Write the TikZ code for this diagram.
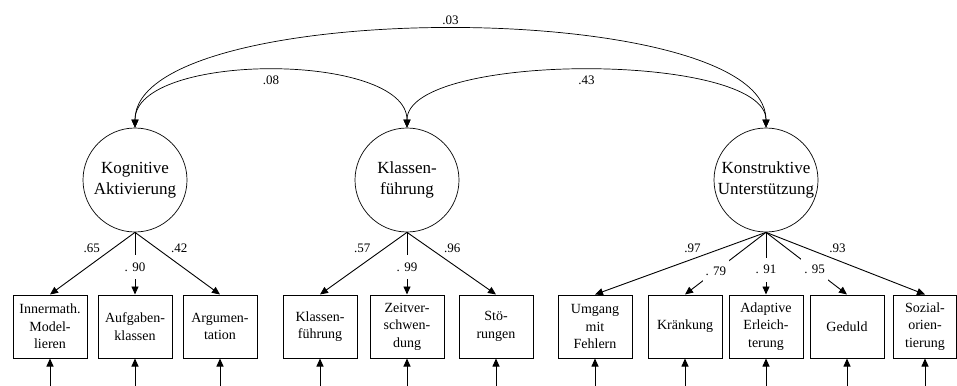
\documentclass[tikz,border=0pt]{standalone}
\usepackage{fontspec}
\setmainfont{Liberation Serif}
\usetikzlibrary{arrows.meta}
\begin{document}
\begin{tikzpicture}[x=1pt,y=-1pt,
  tip/.style={-{Triangle[length=8pt,width=7pt]}},
  bitip/.style={{Triangle[length=8pt,width=7pt]}-{Triangle[length=8pt,width=7pt]}},
  latent/.style={draw, circle, minimum size=104pt, inner sep=0pt, align=center,
    font=\fontsize{17}{21}\selectfont, line width=0.7pt},
  manifest/.style={draw, rectangle, minimum width=74pt, minimum height=63pt, inner sep=0pt,
    align=center, font=\fontsize{14}{17.5}\selectfont, line width=1pt},
  coef/.style={font=\fontsize{13}{15}\selectfont, inner sep=1pt},
  gapcoef/.style={font=\fontsize{13}{15}\selectfont, fill=white, inner sep=3pt, minimum height=24pt},
  load/.style={tip, line width=0.9pt},
  err/.style={tip, line width=0.9pt}
]
\useasboundingbox (0,0) rectangle (957,385);

% latent factors
\node[latent] (KA) at (135,180) {Kognitive\\Aktivierung};
\node[latent] (KF) at (407,180) {Klassen-\\führung};
\node[latent] (KU) at (766,180) {Konstruktive\\Unterstützung};

% manifest indicators
\node[manifest] (b1) at (50,326.5) {Innermath.\\Model-\\lieren};
\node[manifest] (b2) at (135,326.5) {Aufgaben-\\klassen};
\node[manifest] (b3) at (220,326.5) {Argumen-\\tation};
\node[manifest] (b4) at (320,326.5) {Klassen-\\führung};
\node[manifest] (b5) at (407,326.5) {Zeitver-\\schwen-\\dung};
\node[manifest] (b6) at (496,326.5) {Stö-\\rungen};
\node[manifest] (b7) at (595,326.5) {Umgang\\mit\\Fehlern};
\node[manifest] (b8) at (685,326.5) {Kränkung};
\node[manifest] (b9) at (766,326.5) {Adaptive\\Erleich-\\terung};
\node[manifest] (b10) at (847,326.5) {Geduld};
\node[manifest, minimum width=63pt] (b11) at (925,326.5) {Sozial-\\orien-\\tierung};

% correlations
\draw[bitip, line width=0.7pt] (KA.north) .. controls +(0,-131) and +(0,-131) .. (KU.north)
  node[coef, pos=0.5, above=3pt] {.03};
\draw[bitip, line width=0.7pt] (KA.north) .. controls +(0,-76) and +(0,-76) .. (KF.north)
  node[coef, pos=0.5, below=4pt] {.08};
\draw[bitip, line width=0.7pt] (KF.north) .. controls +(0,-76) and +(0,-76) .. (KU.north)
  node[coef, pos=0.5, below=4pt] {.43};

% loadings: Kognitive Aktivierung
\draw[load] (KA.south) -- (b1.north) node[coef, pos=0.25, xshift=-22pt] {.65};
\draw[load] (KA.south) -- (b2.north) node[gapcoef, pos=0.56] {. 90};
\draw[load] (KA.south) -- (b3.north) node[coef, pos=0.25, xshift=23pt] {.42};

% loadings: Klassenführung
\draw[load] (KF.south) -- (b4.north) node[coef, pos=0.25, xshift=-23pt] {.57};
\draw[load] (KF.south) -- (b5.north) node[gapcoef, pos=0.56] {. 99};
\draw[load] (KF.south) -- (b6.north) node[coef, pos=0.25, xshift=23pt] {.96};

% loadings: Konstruktive Unterstützung
\draw[load] (KU.south) -- (b7.north) node[coef, pos=0.43, yshift=11pt] {.97};
\draw[load] (KU.south) -- (b8.north) node[gapcoef, pos=0.62] {. 79};
\draw[load] (KU.south) -- (b9.north) node[gapcoef, pos=0.6] {. 91};
\draw[load] (KU.south) -- (b10.north) node[gapcoef, pos=0.6] {. 95};
\draw[load] (KU.south) -- (b11.north) node[coef, pos=0.45, yshift=12pt] {.93};

% error terms
\foreach \b in {b1,b2,b3,b4,b5,b6,b7,b8,b9,b10,b11}{
  \coordinate (e\b) at (\b.south |- 0,386);
  \draw[err] (e\b) -- (\b.south);
}
\end{tikzpicture}
\end{document}
